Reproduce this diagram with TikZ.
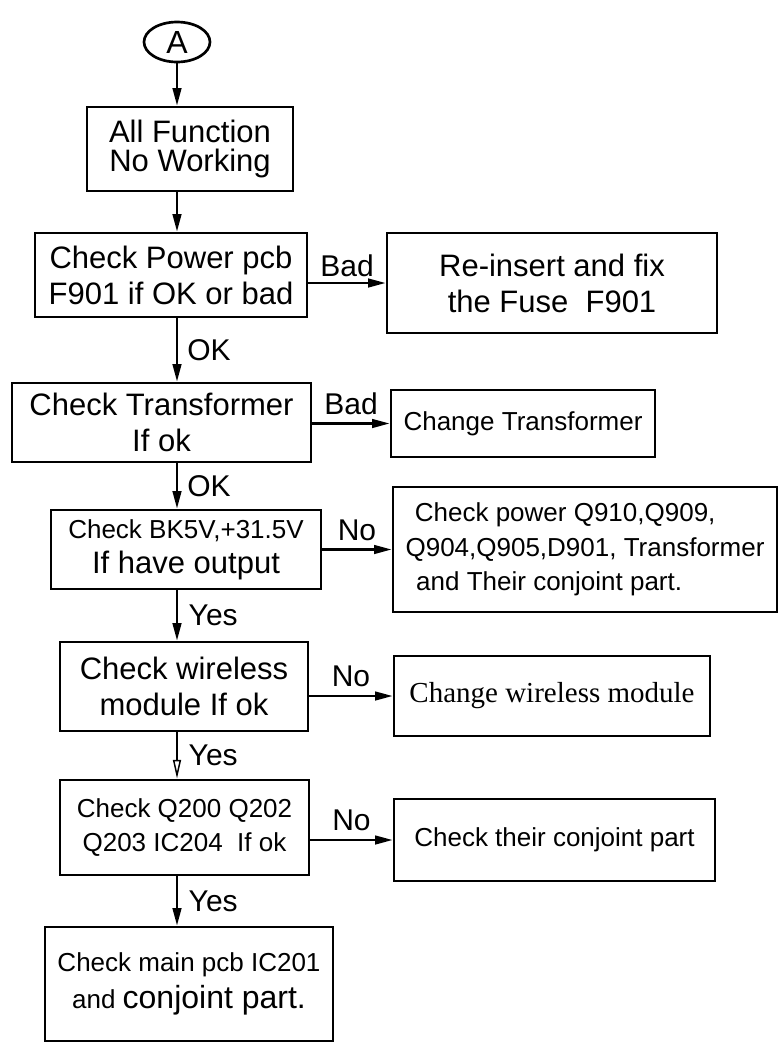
\documentclass[tikz,border=0pt]{standalone}
\usepackage{fontspec}
\setmainfont{Liberation Sans}
\newfontfamily\timesfont{Liberation Serif}
\usepackage{tikz}
\usetikzlibrary{shapes.geometric,arrows.meta,positioning}

\begin{document}
\begin{tikzpicture}[x=0.75pt, y=-0.75pt,
  box/.style={draw, line width=2.2pt, inner sep=0pt, align=center},
  fbig/.style={font=\fontsize{23.25}{27}\selectfont},
  fsmall/.style={font=\fontsize{19.5}{26}\selectfont},
  flow/.style={line width=1.6pt, -{Triangle[length=13pt,width=6.5pt]}},
  flowopen/.style={line width=1.6pt, -{Triangle[open,length=14pt,width=6pt,line width=1.1pt]}},
  lbl/.style={font=\fontsize{22.5}{22.5}\selectfont, inner sep=3pt}]

\useasboundingbox (0,0) rectangle (779,1046);

\node[draw, ellipse, line width=2pt, inner sep=0pt, minimum width=49.5pt, minimum height=30pt, font=\fontsize{24}{24}\selectfont] (A) at (177,42) {A};

\node[box, minimum width=154.5pt, minimum height=63pt, font=\fontsize{23.25}{21.5}\selectfont] (allfn) at (190,149) {All Function\\No Working};
\node[box, minimum width=204pt, minimum height=63pt, fbig] (pcb) at (171,275) {Check Power pcb\\F901 if OK or bad};
\node[box, minimum width=247.5pt, minimum height=75pt, fbig] (fuse) at (552,283) {Re-insert and fix\\the Fuse\ \ F901};

\node[box, minimum width=224.25pt, minimum height=59.25pt, fbig] (trafo) at (161.5,422.5) {Check Transformer\\If ok};
\node[box, minimum width=198pt, minimum height=50.25pt, font=\fontsize{19.5}{22}\selectfont] (chtrafo) at (523,423.5) {Change Transformer};

\node[box, minimum width=202.5pt, minimum height=59.25pt, fsmall] (bkfive) at (186,549.5) {Check BK5V,+31.5V\\{\fontsize{23.25}{26}\selectfont If have output}};
\node[box, minimum width=288pt, minimum height=93.75pt, fsmall, align=left] (power) at (585,549.5) {\hspace*{7pt}Check power Q910,Q909,\\Q904,Q905,D901, Transformer\\\hspace*{8pt}and Their conjoint part.};

\node[box, minimum width=186pt, minimum height=66.75pt, fbig] (wless) at (184,686.5) {Check wireless\\module If ok};
\node[box, minimum width=237pt, minimum height=60pt, font=\timesfont\fontsize{21.75}{24}\selectfont] (chwless) at (552,696) {Change wireless module};

\node[box, minimum width=186.75pt, minimum height=71.25pt, fsmall] (qcheck) at (184.5,827.5) {Check Q200 Q202\\Q203 IC204\ \ If ok};
\node[box, minimum width=240.75pt, minimum height=61.5pt, fsmall] (conj) at (554.5,840) {Check their conjoint part};

\node[box, minimum width=216pt, minimum height=85.5pt, font=\fontsize{19.5}{27.5}\selectfont] (mainpcb) at (189,984) {Check main pcb IC201\\and {\fontsize{24}{27.5}\selectfont conjoint part.}};

\draw[flow] (A) -- (A |- allfn.north);
\draw[flow] (allfn.south -| A) -- (pcb.north -| A);
\draw[flow] (pcb.south -| A) -- node[lbl, right=4pt] {OK} (trafo.north -| A);
\draw[flow] (trafo.south -| A) -- node[lbl, right=4pt] {OK} (bkfive.north -| A);
\draw[flow] (bkfive.south -| A) -- node[lbl, right=5pt] {Yes} (wless.north -| A);
\draw[flowopen] (wless.south -| A) -- node[lbl, right=5pt] {Yes} (qcheck.north -| A);
\draw[flow] (qcheck.south -| A) -- node[lbl, right=5pt] {Yes} (mainpcb.north -| A);

\draw[flow] (pcb.east |- fuse.west) -- node[lbl, above=1pt] {Bad} (fuse.west);
\draw[flow] (trafo.east |- chtrafo.west) -- node[lbl, above=3pt] {Bad} (chtrafo.west);
\draw[flow] (bkfive.east |- power.west) -- node[lbl, above=3pt] {No} (power.west);
\draw[flow] (wless.east |- chwless.west) -- node[lbl, above=3pt] {No} (chwless.west);
\draw[flow] (qcheck.east |- conj.west) -- node[lbl, above=3pt] {No} (conj.west);

\end{tikzpicture}
\end{document}
